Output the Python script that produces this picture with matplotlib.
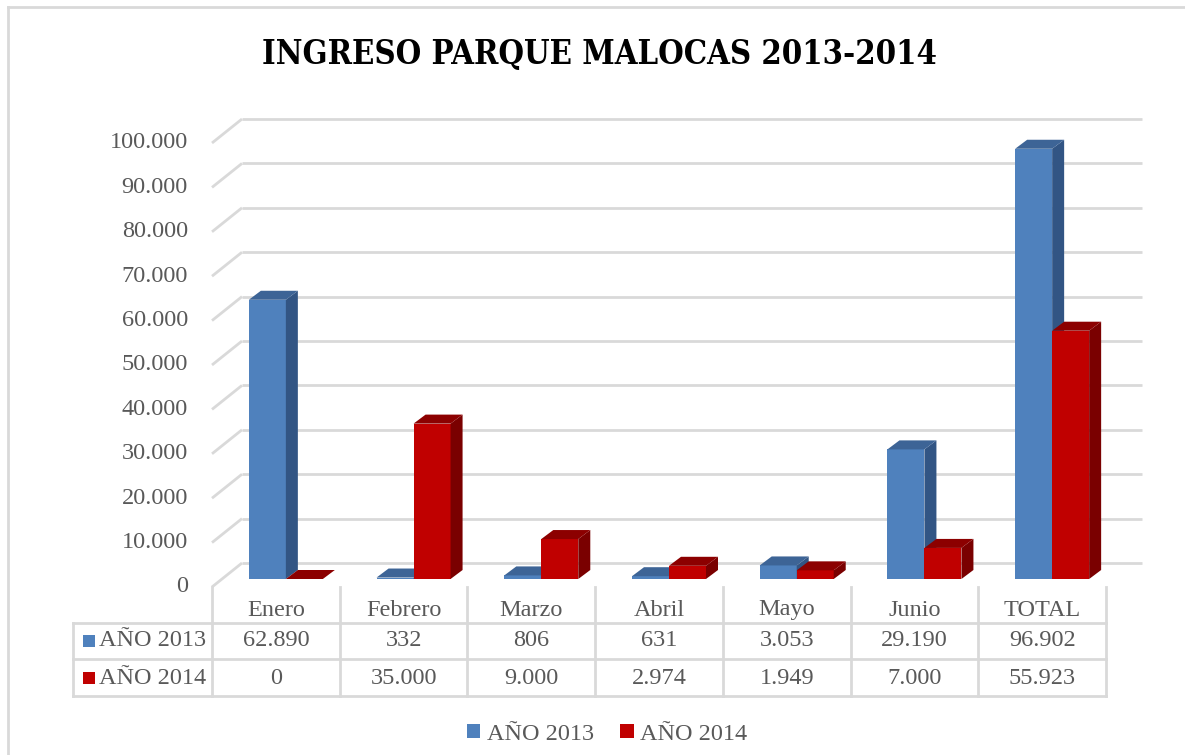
import matplotlib
matplotlib.use("Agg")
import matplotlib.pyplot as plt
from matplotlib.patches import Polygon, Patch, Rectangle
from matplotlib.lines import Line2D
import matplotlib.transforms as mtransforms
from matplotlib import font_manager

# ---------------- data ----------------
categories = ["Enero", "Febrero", "Marzo", "Abril", "Mayo", "Junio", "TOTAL"]
series_names = ["AÑO 2013", "AÑO 2014"]
values_2013 = [62890, 332, 806, 631, 3053, 29190, 96902]
values_2014 = [0, 35000, 9000, 2974, 1949, 7000, 55923]
y_ticks = [0, 10000, 20000, 30000, 40000, 50000, 60000, 70000, 80000, 90000, 100000]
title = "INGRESO PARQUE MALOCAS 2013-2014"

# ---------------- style ----------------
FRONT = ["#4f81bd", "#c00000"]
SIDE = ["#325584", "#7a0000"]
TOP = ["#3d6496", "#8c0000"]
GRID = "#d9d9d9"
TXT = "#595959"
FONT = "Liberation Serif"
FS = 17.5

W, H = 1185, 755
fig = plt.figure(figsize=(W / 100, H / 100), dpi=100)
fig.patch.set_facecolor("white")


def fx(px):
    return px / W


def fy(py):
    return 1 - py / H


# axes = front plane of the 3D box
ax_l, ax_r, ax_b, ax_t = 212, 1106, 587, 143
ax = fig.add_axes([fx(ax_l), fy(ax_b), (ax_r - ax_l) / W, (ax_b - ax_t) / H])
n = len(categories)
ax.set_xlim(-0.5, n - 0.5)
ax.set_ylim(0, 100000)
ax.axis("off")

sx = (ax_r - ax_l) / n          # px per category
sy = (ax_b - ax_t) / 100000.0   # px per unit


def off(dxp, dyp):
    """pixel offset (right, up) -> data offset"""
    return dxp / sx, dyp / sy


wall_dx, wall_dy = off(30, 24)
bar_dx, bar_dy = off(10, 8)
dep_dx, dep_dy = off(12, 9)
grid_end = (1142 - ax_l) / sx - 0.5

# gridlines (back wall + left side diagonals)
for v in y_ticks:
    ax.plot([-0.5, -0.5 + wall_dx], [v, v + wall_dy], color=GRID, lw=2,
            solid_capstyle="butt", zorder=1, clip_on=False)
    ax.plot([-0.5 + wall_dx, grid_end], [v + wall_dy, v + wall_dy], color=GRID,
            lw=2, solid_capstyle="butt", zorder=1, clip_on=False)

# y tick labels
lab_tr = ax.transData + mtransforms.ScaledTranslation(-24 / 100, 0, fig.dpi_scale_trans)
for v in y_ticks:
    ax.text(-0.5, v, f"{v:,}".replace(",", "."), transform=lab_tr, ha="right",
            va="center", fontsize=FS, family=FONT, color=TXT)

# bars
bw = 37 / sx
z = 3
for i in range(n):
    for s, vals in enumerate([values_2013, values_2014]):
        v = vals[i]
        x0 = i - bw + s * bw + bar_dx
        y0 = bar_dy
        ax.bar(x0, v, bottom=y0, width=bw, align="edge", color=FRONT[s],
               edgecolor="none", zorder=z, clip_on=False)
        side = Polygon([(x0 + bw, y0), (x0 + bw, y0 + v),
                        (x0 + bw + dep_dx, y0 + v + dep_dy), (x0 + bw + dep_dx, y0 + dep_dy)],
                       closed=True, facecolor=SIDE[s], edgecolor="none", zorder=z, clip_on=False)
        topf = Polygon([(x0, y0 + v), (x0 + bw, y0 + v),
                        (x0 + bw + dep_dx, y0 + v + dep_dy), (x0 + dep_dx, y0 + v + dep_dy)],
                       closed=True, facecolor=TOP[s], edgecolor="none", zorder=z, clip_on=False)
        ax.add_patch(side)
        ax.add_patch(topf)
        z += 1

# ---------------- data table ----------------
btr = mtransforms.blended_transform_factory(ax.transData, fig.transFigure)
lab_left = -0.5 - (ax_l - 73) / sx
row_y = [587, 623, 659, 696]
text_y = [610, 641, 678]


def hline(x0, x1, py):
    fig.add_artist(Line2D([x0, x1], [fy(py), fy(py)], transform=btr, color=GRID, lw=2,
                          solid_capstyle="projecting"))


def vline(x, py0, py1):
    fig.add_artist(Line2D([x, x], [fy(py0), fy(py1)], transform=btr, color=GRID, lw=2,
                          solid_capstyle="projecting"))


for py in row_y[1:]:
    hline(lab_left, n - 0.5, py)
for k in range(n + 1):
    vline(-0.5 + k, row_y[0], row_y[-1])
vline(lab_left, row_y[1], row_y[-1])

for i, c in enumerate(categories):
    fig.text(i, fy(text_y[0]), c, transform=btr, ha="center", va="center",
             fontsize=FS, family=FONT, color=TXT)
for r, vals in enumerate([values_2013, values_2014]):
    for i, v in enumerate(vals):
        fig.text(i, fy(text_y[r + 1]), f"{v:,}".replace(",", "."), transform=btr,
                 ha="center", va="center", fontsize=FS, family=FONT, color=TXT)
    fig.add_artist(Rectangle((fx(83), fy(text_y[r + 1] + 6)), 12 / W, 12 / H,
                             transform=fig.transFigure, facecolor=FRONT[r], edgecolor="none"))
    fig.text(fx(99), fy(text_y[r + 1]), series_names[r], ha="left", va="center",
             fontsize=FS, family=FONT, color=TXT)

# ---------------- legend ----------------
handles = [Patch(facecolor=FRONT[s], edgecolor="none", label=series_names[s]) for s in range(2)]
fig.legend(handles=handles, loc="center", bbox_to_anchor=(fx(607), fy(734)), ncol=2,
           frameon=False, prop={"family": FONT, "size": FS}, labelcolor=TXT,
           handlelength=0.55, handleheight=0.55, handletextpad=0.25, columnspacing=1.1)

# ---------------- title ----------------
tfam = FONT
for f in font_manager.fontManager.ttflist:
    if f.name == "DejaVu Serif" and f.stretch == "condensed" and f.weight in ("bold", 700):
        tfam = "DejaVu Serif"
        break
t = fig.text(fx(600), fy(55), title, ha="center", va="center", fontsize=30,
             fontweight="bold", family=tfam, color="black",
             fontstretch="condensed" if tfam == "DejaVu Serif" else "normal")
r = fig.canvas.get_renderer()
w = t.get_window_extent(renderer=r).width
t.set_fontsize(30 * 674 / w)

# ---------------- outer border ----------------
fig.add_artist(Line2D([fx(8), fx(8)], [fy(7), 0], transform=fig.transFigure, color=GRID, lw=2))
fig.add_artist(Line2D([fx(8), 1], [fy(7), fy(7)], transform=fig.transFigure, color=GRID, lw=2))

fig.savefig("out.png", dpi=100, facecolor="white")
